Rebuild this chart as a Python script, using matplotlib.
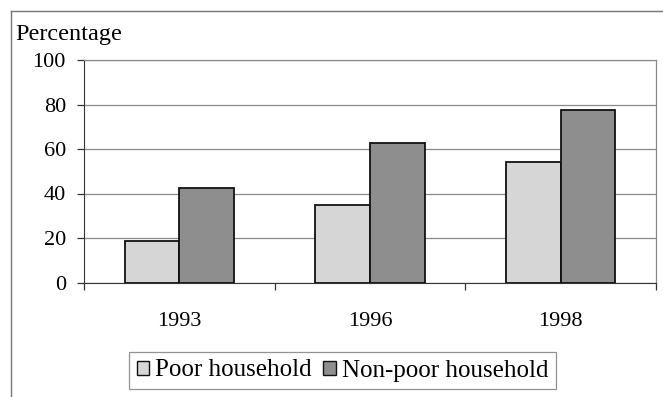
import matplotlib.pyplot as plt
from matplotlib.lines import Line2D
from matplotlib.patches import Patch

plt.rcParams['font.family'] = 'Liberation Serif'

years = ['1993', '1996', '1998']
poor = [18.5, 35, 54]
non_poor = [42.5, 62.5, 77.5]

fig = plt.figure(figsize=(6.63, 3.97), dpi=100)
ax = fig.add_axes([84/663, 1-282.5/397, 572/663, 222.5/397])

x = range(len(years))
w = 0.286
ax.bar([i - w/2 for i in x], poor, w, color='#d6d6d6', edgecolor='#111111', linewidth=1.3, zorder=3)
ax.bar([i + w/2 for i in x], non_poor, w, color='#8e8e8e', edgecolor='#111111', linewidth=1.3, zorder=3)

ax.set_xlim(-0.5, 2.5)
ax.set_ylim(0, 100)
ax.set_yticks(range(0, 101, 20))
ax.yaxis.grid(True, color='#8a8a8a', linewidth=0.9)
ax.set_axisbelow(True)
ax.tick_params(axis='y', length=5, width=0.9, pad=8, labelsize=16, color='#333333')

# ticks at category boundaries, year labels centred between them
ax.set_xticks([-0.5, 0.5, 1.5, 2.5])
ax.set_xticklabels([])
ax.tick_params(axis='x', which='major', length=5, width=0.9, color='#333333')
ax.set_xticks(list(x), minor=True)
ax.set_xticklabels(years, minor=True)
ax.tick_params(axis='x', which='minor', length=0, pad=21, labelsize=16)

for s in ['top', 'right']:
    ax.spines[s].set_color('#8a8a8a')
    ax.spines[s].set_linewidth(0.9)
ax.spines['left'].set_color('#333333')
ax.spines['bottom'].set_color('#333333')

fig.text(15/663, 1-40/397, 'Percentage', fontsize=17.5, va='baseline', ha='left')

handles = [Patch(facecolor='#d6d6d6', edgecolor='#111111', linewidth=1),
           Patch(facecolor='#8e8e8e', edgecolor='#111111', linewidth=1)]
leg = fig.legend(handles, ['Poor household', 'Non-poor household'], ncol=2,
                 loc='upper center', bbox_to_anchor=(342.5/663, 1-352/397),
                 fontsize=18, frameon=True, fancybox=False, edgecolor='#777777',
                 handlelength=0.5, handleheight=0.5, handletextpad=0.25,
                 columnspacing=0.45, borderpad=0.3, borderaxespad=0)
leg.get_frame().set_linewidth(0.9)

# outer chart border
fig.add_artist(Line2D([11/663, 11/663], [0, 1-11/397], color='#777777', linewidth=1))
fig.add_artist(Line2D([11/663, 1], [1-11/397, 1-11/397], color='#777777', linewidth=1))

fig.savefig('out.png', dpi=100)
